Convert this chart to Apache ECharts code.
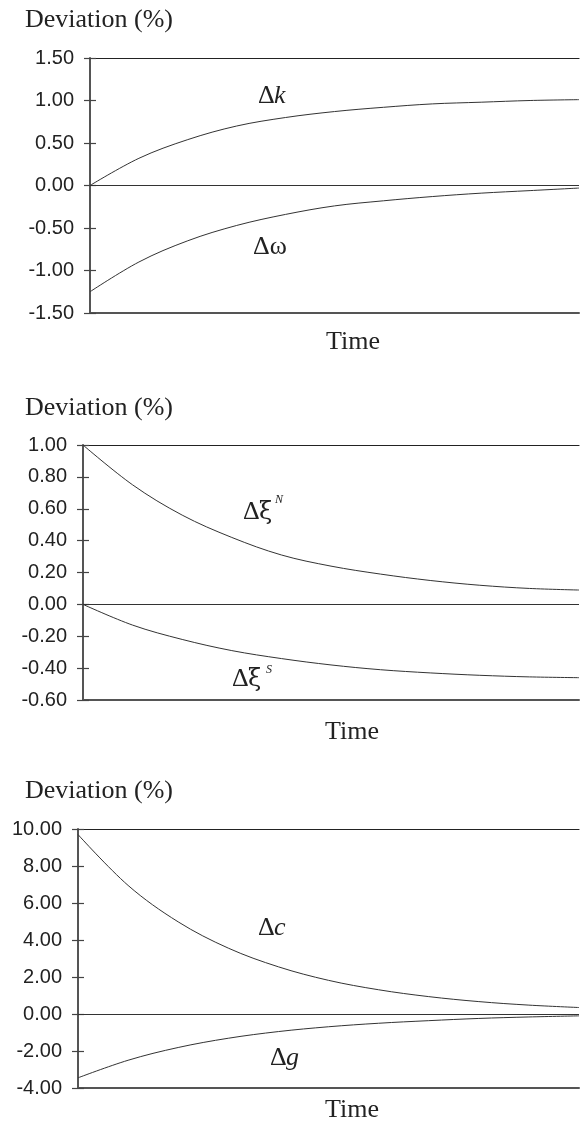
<!DOCTYPE html>
<html>
<head>
<meta charset="utf-8">
<script src="https://cdn.jsdelivr.net/npm/echarts@6/dist/echarts.min.js"></script>
<style>
  html, body { margin: 0; padding: 0; background: #fff; }
  #main { width: 580px; height: 1123px; }
</style>
</head>
<body>
<div id="main"></div>
<script>
// time runs 0..1 along every panel, same sample points for all curves
var timePts = [0, 0.1, 0.2, 0.3, 0.4, 0.5, 0.6, 0.7, 0.8, 0.9, 1.0];

// panel 1
var devK     = [0, 0.32, 0.54, 0.70, 0.80, 0.87, 0.92, 0.96, 0.98, 1.00, 1.01];
var devOmega = [-1.25, -0.90, -0.65, -0.47, -0.34, -0.24, -0.18, -0.13, -0.09, -0.06, -0.03];
// panel 2
var devXiN   = [1.00, 0.75, 0.56, 0.42, 0.31, 0.24, 0.19, 0.15, 0.12, 0.10, 0.09];
var devXiS   = [0, -0.13, -0.22, -0.29, -0.34, -0.38, -0.41, -0.43, -0.445, -0.455, -0.46];
// panel 3
var devC     = [9.70, 6.95, 4.98, 3.56, 2.55, 1.82, 1.31, 0.94, 0.67, 0.48, 0.35];
var devG     = [-3.45, -2.50, -1.81, -1.31, -0.95, -0.69, -0.50, -0.36, -0.24, -0.16, -0.10];

// y axis ranges / ticks
var yTicks1 = { min: -1.5, max: 1.5, interval: 0.5 };
var yTicks2 = { min: -0.6, max: 1.0, interval: 0.2 };
var yTicks3 = { min: -4, max: 10, interval: 2 };

var serif = '"Liberation Serif", "Times New Roman", serif';
var greek = '"DejaVu Serif", serif';
var sans = '"Liberation Sans", Arial, sans-serif';

function pairs(ys){
  var out = [];
  for(var i=0;i<ys.length;i++) out.push([timePts[i], ys[i]]);
  return out;
}

var grids = [
  { left: 90, top: 58,  width: 489, height: 255 },
  { left: 83, top: 445, width: 496, height: 255 },
  { left: 78, top: 829, width: 501, height: 259 }
];
var yRanges = [yTicks1, yTicks2, yTicks3];

var xAxes = [], yAxes = [], series = [];
for(var g=0; g<3; g++){
  // bottom frame line
  xAxes.push({
    gridIndex: g, type: 'value', min: 0, max: 1, position: 'bottom',
    axisLine: { show: true, onZero: false, lineStyle: { color: '#555', width: 2 } },
    axisTick: { show: false }, axisLabel: { show: false }, splitLine: { show: false }
  });
  // top frame line
  xAxes.push({
    gridIndex: g, type: 'value', min: 0, max: 1, position: 'top',
    axisLine: { show: true, onZero: false, lineStyle: { color: '#222', width: 1.2 } },
    axisTick: { show: false }, axisLabel: { show: false }, splitLine: { show: false }
  });
  var r = yRanges[g];
  yAxes.push({
    gridIndex: g, type: 'value', min: r.min, max: r.max, interval: r.interval, position: 'left',
    axisLine: { show: true, onZero: false, lineStyle: { color: '#555', width: 2 } },
    axisTick: { show: true, inside: false, length: 6, lineStyle: { color: '#444', width: 1.2 } },
    axisLabel: {
      margin: 16, color: '#222', fontFamily: sans, fontSize: 20,
      formatter: function(v){ return v.toFixed(2); }
    },
    splitLine: { show: false }
  });
  // second copy just for the inner half of the ticks
  yAxes.push({
    gridIndex: g, type: 'value', min: r.min, max: r.max, interval: r.interval, position: 'left',
    axisLine: { show: false },
    axisTick: { show: true, inside: true, length: 6, lineStyle: { color: '#444', width: 1.2 } },
    axisLabel: { show: false },
    splitLine: { show: false }
  });
}

var lineData = [[devK, devOmega], [devXiN, devXiS], [devC, devG]];
for(var p=0; p<3; p++){
  for(var s=0; s<2; s++){
    var item = {
      type: 'line',
      xAxisIndex: p*2, yAxisIndex: p*2,
      data: pairs(lineData[p][s]),
      smooth: 0.35,
      symbol: 'none',
      silent: true,
      lineStyle: { color: '#333', width: 1 }
    };
    if(s==0){
      item.markLine = {
        silent: true, symbol: 'none', animation: false,
        label: { show: false },
        lineStyle: { color: '#333', type: 'solid', width: 1.2 },
        data: [{ yAxis: 0 }]
      };
    }
    series.push(item);
  }
}

function txt(x, y, s, size, italic, family){
  return {
    type: 'text', x: x, y: y, silent: true,
    style: {
      text: s, fill: '#222',
      font: (italic ? 'italic ' : '') + size + 'px ' + (family || serif),
      textVerticalAlign: 'middle'
    }
  };
}

var labels = [
  txt(25, 20, 'Deviation (%)', 26),
  txt(25, 408, 'Deviation (%)', 26),
  txt(25, 791, 'Deviation (%)', 26),
  txt(326, 342, 'Time', 26),
  txt(325, 732, 'Time', 26),
  txt(325, 1110, 'Time', 26),
  txt(258, 96, 'Δ', 26), txt(274, 96, 'k', 26, true),
  txt(253, 247, 'Δω', 26),
  txt(243, 512, 'Δ', 26), txt(259, 513, 'ξ', 24, false, greek), txt(275, 500, 'N', 12, true),
  txt(232, 679, 'Δ', 26), txt(248, 680, 'ξ', 24, false, greek), txt(266, 670, 'S', 12, true),
  txt(258, 928, 'Δ', 26), txt(274, 928, 'c', 26, true),
  txt(270, 1058, 'Δ', 26), txt(286, 1058, 'g', 26, true)
];

var chart = echarts.init(document.getElementById('main'), null, { renderer: 'canvas' });
chart.setOption({
  animation: false,
  backgroundColor: '#fff',
  grid: grids,
  xAxis: xAxes,
  yAxis: yAxes,
  series: series,
  graphic: labels
});
</script>
</body>
</html>
